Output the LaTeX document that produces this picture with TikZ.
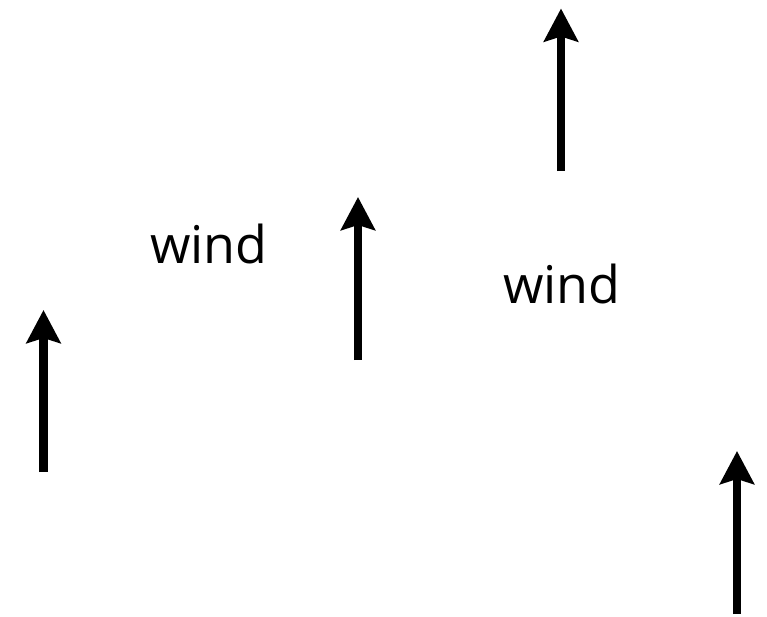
\documentclass[tikz,border=0pt]{standalone}
\usepackage{fontspec}
\setmainfont{Open Sans}
\usetikzlibrary{arrows.meta}
\begin{document}
\begin{tikzpicture}[x=1pt,y=-1pt,
  windarrow/.style={line width=8.5pt,-{Stealth[length=33pt,width=34pt,inset=5pt]}},
  windlabel/.style={font=\fontsize{52}{60}\selectfont,inner sep=0pt,anchor=base}]
  \useasboundingbox (0,0) rectangle (767,616);
  % arrows: base coordinate to tip coordinate
  \coordinate (a1s) at (43.5,472);  \coordinate (a1t) at (43.5,310);
  \coordinate (a2s) at (358,360);   \coordinate (a2t) at (358,197);
  \coordinate (a3s) at (561,171);   \coordinate (a3t) at (561,8.5);
  \coordinate (a4s) at (737,614);   \coordinate (a4t) at (737,451);
  \draw[windarrow] (a1s) -- (a1t);
  \draw[windarrow] (a2s) -- (a2t);
  \draw[windarrow] (a3s) -- (a3t);
  \draw[windarrow] (a4s) -- (a4t);
  % labels
  \node[windlabel] (w1) at (209,263) {wind};
  \node[windlabel] (w2) at (562,303) {wind};
\end{tikzpicture}
\end{document}
